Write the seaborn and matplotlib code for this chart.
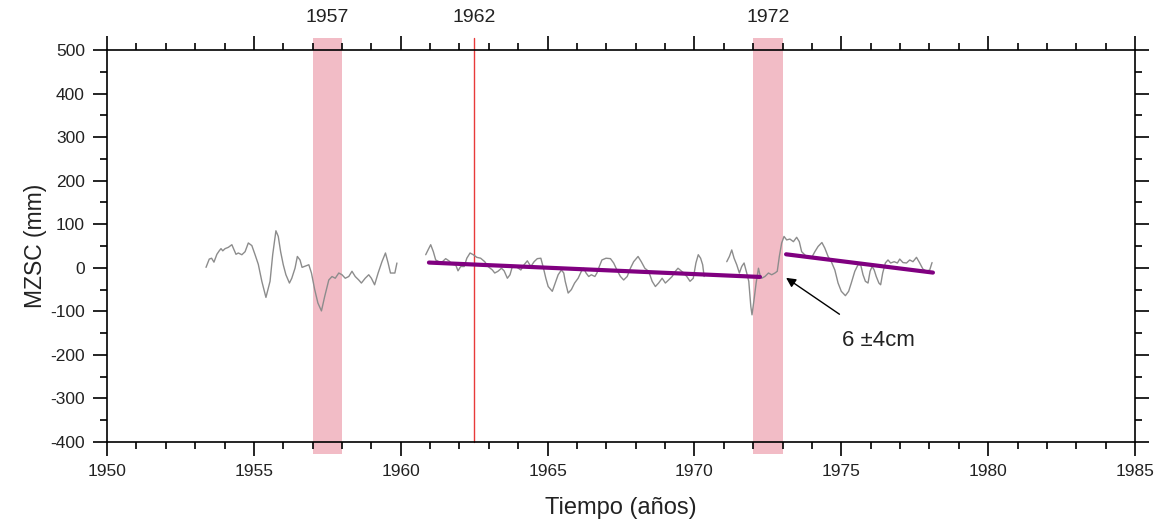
import numpy as np
import pandas as pd
import matplotlib
matplotlib.use("Agg")
import matplotlib.pyplot as plt
import matplotlib.transforms as mtransforms
from matplotlib.ticker import MultipleLocator
import seaborn as sb

# tide-gauge record, first block (1953-1959)
years_a = [1953.37, 1953.48, 1953.56, 1953.64, 1953.74, 1953.82, 1953.88, 1953.94, 1954.02, 1954.13,
           1954.25, 1954.30, 1954.39, 1954.47, 1954.59, 1954.70, 1954.81, 1954.93, 1955.04, 1955.15,
           1955.27, 1955.41, 1955.55, 1955.64, 1955.75, 1955.83, 1955.91, 1956.00, 1956.09, 1956.21,
           1956.29, 1956.40, 1956.48, 1956.57, 1956.64, 1956.87, 1956.96, 1957.07, 1957.18, 1957.30,
           1957.41, 1957.55, 1957.66, 1957.77, 1957.89, 1958.00, 1958.11, 1958.23, 1958.34, 1958.45,
           1958.57, 1958.66, 1958.79, 1958.91, 1959.00, 1959.11, 1959.23, 1959.36, 1959.48, 1959.57,
           1959.65, 1959.80, 1959.87]
mzsc_a = [1, 20, 22, 13, 31, 39, 44, 39, 44, 47,
          53, 45, 31, 34, 30, 37, 57, 51, 30, 8,
          -31, -68, -31, 30, 85, 72, 37, 7, -16, -35,
          -24, -1, 26, 18, 1, 7, -12, -50, -81, -99,
          -66, -28, -20, -24, -12, -16, -24, -20, -8, -20,
          -28, -35, -24, -16, -24, -39, -12, 14, 34, 11,
          -12, -12, 11]

# second block (1961-1970)
years_b = [1960.85, 1960.93, 1961.02, 1961.11, 1961.19, 1961.30, 1961.42, 1961.53, 1961.64, 1961.76,
           1961.87, 1961.95, 1962.04, 1962.16, 1962.25, 1962.36, 1962.47, 1962.59, 1962.72, 1962.86,
           1962.97, 1963.12, 1963.20, 1963.31, 1963.43, 1963.52, 1963.63, 1963.72, 1963.80, 1963.92,
           1964.09, 1964.20, 1964.31, 1964.43, 1964.54, 1964.65, 1964.77, 1964.86, 1964.94, 1965.02,
           1965.16, 1965.26, 1965.36, 1965.47, 1965.55, 1965.60, 1965.70, 1965.81, 1965.92, 1966.04,
           1966.15, 1966.23, 1966.31, 1966.40, 1966.49, 1966.61, 1966.68, 1966.76, 1966.85, 1966.99,
           1967.14, 1967.25, 1967.36, 1967.48, 1967.59, 1967.71, 1967.82, 1967.93, 1968.08, 1968.19,
           1968.31, 1968.44, 1968.56, 1968.67, 1968.78, 1968.90, 1969.01, 1969.12, 1969.24, 1969.35,
           1969.44, 1969.62, 1969.74, 1969.85, 1969.96, 1970.05, 1970.13, 1970.21, 1970.28, 1970.33]
mzsc_b = [30, 41, 53, 37, 18, 14, 14, 21, 16, 8,
          7, -7, 3, 3, 22, 34, 30, 24, 22, 14,
          3, -5, -12, -8, -1, -7, -24, -16, 3, 3,
          -5, 7, 16, 3, 14, 21, 22, -1, -24, -43,
          -54, -35, -16, -5, -12, -31, -58, -50, -35, -24,
          -8, -1, -12, -20, -16, -20, -12, 3, 18, 22,
          21, 11, -5, -20, -28, -20, -1, 14, 26, 14,
          -1, -8, -31, -43, -35, -24, -35, -28, -20, -8,
          -1, -11, -20, -31, -24, 11, 30, 22, 7, -20]

# third block (1971-1978)
years_c = [1971.10, 1971.19, 1971.27, 1971.35, 1971.44, 1971.53, 1971.61, 1971.69, 1971.78, 1971.85,
           1971.92, 1971.96, 1972.03, 1972.10, 1972.18, 1972.23, 1972.29, 1972.40, 1972.52, 1972.63,
           1972.74, 1972.82, 1972.89, 1972.97, 1973.05, 1973.14, 1973.25, 1973.37, 1973.48, 1973.57,
           1973.65, 1973.87, 1973.98, 1974.10, 1974.21, 1974.34, 1974.44, 1974.55, 1974.66, 1974.78,
           1974.89, 1975.00, 1975.14, 1975.25, 1975.34, 1975.46, 1975.57, 1975.66, 1975.74, 1975.82,
           1975.91, 1975.98, 1976.05, 1976.12, 1976.19, 1976.28, 1976.34, 1976.41, 1976.50, 1976.59,
           1976.68, 1976.80, 1976.91, 1976.99, 1977.10, 1977.22, 1977.33, 1977.44, 1977.56, 1977.67,
           1977.78, 1977.90, 1978.01, 1978.09]
mzsc_c = [14, 26, 41, 22, 7, -12, 3, 11, -12, -31,
          -89, -108, -73, -35, -1, -16, -24, -20, -12, -16,
          -12, -8, 26, 57, 72, 64, 66, 60, 70, 60,
          37, 22, 22, 37, 49, 58, 45, 26, 14, -5,
          -35, -54, -64, -54, -35, -8, 7, 7, -16, -31,
          -35, -8, 3, -5, -20, -35, -39, -12, 11, 18,
          11, 14, 11, 20, 12, 11, 18, 14, 24, 11,
          -3, -8, -5, 12]

# linear trends before / after the 1972 jump
trend1_years = [1960.96, 1972.23]
trend1_vals = [12, -21]
trend2_years = [1973.12, 1978.12]
trend2_vals = [31, -11]

events = [1957, 1972]       # shaded years
event_labels = ["1957", "1962", "1972"]
event_x = [1957.5, 1962.5, 1972.5]
red_line_x = 1962.5

sb.set_style("white")
plt.rcParams['font.family'] = ['Liberation Sans', 'DejaVu Sans']
plt.rcParams['axes.unicode_minus'] = False

fig = plt.figure(figsize=(11.61, 5.21), dpi=100)
ax = fig.add_axes([0.0922, 0.1516, 0.8854, 0.7524])

for yr in events:
    ax.axvspan(yr, yr + 1, ymin=-0.03, ymax=1.03, color="#f2bcc6", lw=0,
               clip_on=False, zorder=0)
ax.axvline(red_line_x, ymin=0, ymax=1.03, color="#e83a3a", lw=1.0,
           clip_on=False, zorder=1)

for yrs, vals in [(years_a, mzsc_a), (years_b, mzsc_b), (years_c, mzsc_c)]:
    df = pd.DataFrame({"year": yrs, "mzsc": vals})
    sb.lineplot(data=df, x="year", y="mzsc", ax=ax, color="#8c8c8c", lw=1.0,
                estimator=None, sort=False, zorder=2)

for yrs, vals in [(trend1_years, trend1_vals), (trend2_years, trend2_vals)]:
    df = pd.DataFrame({"year": yrs, "mzsc": vals})
    sb.lineplot(data=df, x="year", y="mzsc", ax=ax, color="#800080", lw=3.0,
                estimator=None, sort=False, zorder=3)

ax.annotate("6 \u00b14cm", xy=(1973.12, -23), xytext=(1976.25, -167),
            ha="center", va="center", fontsize=16, color="#222222",
            arrowprops=dict(arrowstyle="-|>", color="black", lw=1.0,
                            shrinkA=16, shrinkB=0, mutation_scale=14))

trans = mtransforms.blended_transform_factory(ax.transData, ax.transAxes)
for lab, xx in zip(event_labels, event_x):
    ax.text(xx, 1.082, lab, transform=trans, ha="center", va="center",
            fontsize=14, color="#222222")

ax.set_xlim(1950, 1985)
ax.set_ylim(-400, 500)
ax.xaxis.set_major_locator(MultipleLocator(5))
ax.xaxis.set_minor_locator(MultipleLocator(1))
ax.yaxis.set_major_locator(MultipleLocator(100))
ax.yaxis.set_minor_locator(MultipleLocator(50))
ax.tick_params(which="both", direction="out", top=True, right=True,
               bottom=True, left=True, color="black", width=1.2)
ax.tick_params(which="major", length=10, labelsize=12.5, labelcolor="#222222", pad=6)
ax.tick_params(which="minor", length=5)
for sp in ax.spines.values():
    sp.set_color("black")
    sp.set_linewidth(1.2)

ax.set_xlabel("Tiempo (años)", fontsize=17, color="#222222", labelpad=13)
ax.set_ylabel("MZSC (mm)", fontsize=16.5, color="#222222", labelpad=2)

fig.savefig("out.png", dpi=100)
